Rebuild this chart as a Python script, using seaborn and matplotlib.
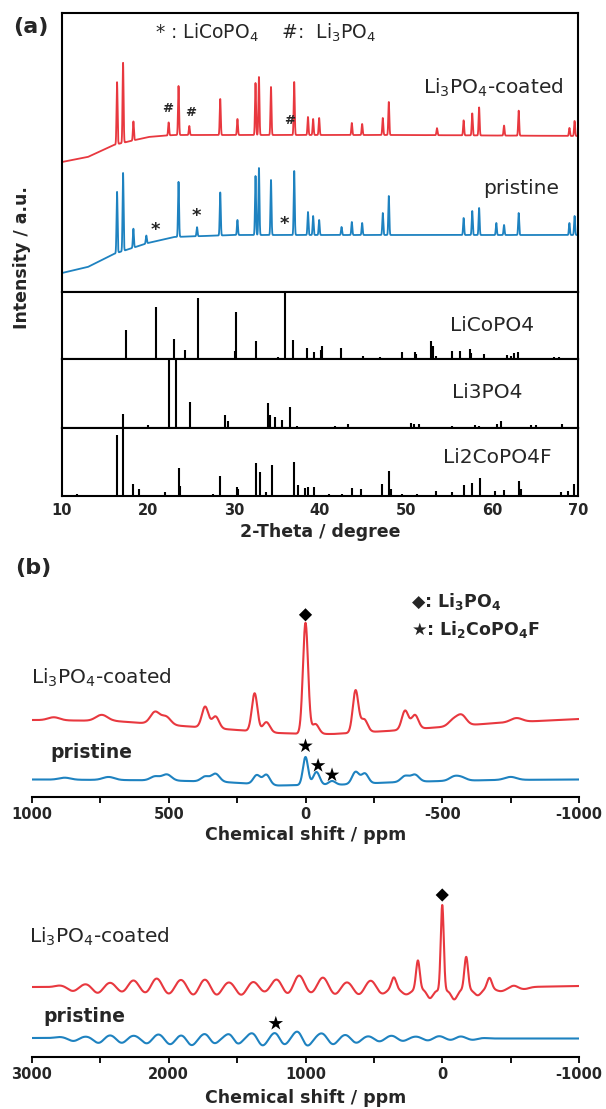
import numpy as np
import matplotlib
matplotlib.use("Agg")
import matplotlib.pyplot as plt
import seaborn as sns

# ---------------------------------------------------------------- data
# (a) measured XRD patterns: baseline anchors and peak list (2theta, intensity a.u.)
xrd_base_2theta = [10, 13, 16, 20, 23, 30, 50, 70]
coated_base = [130, 135, 147, 155, 157, 157, 157, 156]
pristine_base = [19, 25, 38, 49, 55, 57, 57, 57]

coated_peak_2theta = [16.4, 17.1, 18.3, 22.4, 23.55, 24.8, 28.4, 30.4, 32.5, 32.9, 34.3,
                      37.0, 38.6, 39.2, 39.9, 43.7, 44.9, 47.3, 48.0, 53.6, 56.7, 57.7,
                      58.5, 61.4, 63.1, 69.0, 69.6]
coated_peak_int = [62, 80, 19, 13, 49, 9, 36, 16, 52, 58, 48,
                   53, 18, 16, 17, 12, 11, 17, 33, 7, 15, 22,
                   28, 10, 25, 8, 15]

pristine_peak_2theta = [16.4, 17.1, 18.3, 19.8, 23.55, 25.7, 28.4, 30.4, 32.5, 32.9, 34.3,
                        37.0, 38.6, 39.2, 39.9, 42.5, 43.7, 44.9, 47.3, 48.0, 56.7, 57.7,
                        58.5, 60.5, 61.4, 63.1, 69.0, 69.6]
pristine_peak_int = [61, 78, 19, 8, 55, 9, 43, 15, 59, 67, 55,
                     64, 23, 19, 15, 8, 13, 12, 22, 39, 17, 24,
                     27, 12, 10, 22, 12, 19]

hash_2theta = [22.3, 24.9, 36.5]      # '#' Li3PO4 marks on coated pattern
star_2theta = [20.8, 25.6, 35.9]      # '*' LiCoPO4 marks on pristine pattern

# reference stick patterns (2theta, relative intensity %)
licopo4_2theta = [17.45, 20.9, 23.06, 24.27, 25.8, 30.06, 30.24, 32.5, 35.1, 35.9, 36.9,
                  38.5, 39.35, 40.07, 40.25, 42.4, 45.0, 47.0, 49.5, 51.0, 51.2, 52.86,
                  53.1, 53.5, 55.4, 56.3, 57.4, 57.6, 59.1, 61.8, 62.2, 62.6, 63.0, 67.2, 67.8]
licopo4_int = [43, 77.5, 30, 13, 91.5, 12.5, 70.5, 27.5, 3, 100, 28.5,
               16.5, 10, 14, 20, 16.5, 4, 2.5, 10, 10.5, 8, 26.5,
               20, 4, 11.5, 12.5, 15.5, 9, 8, 6.5, 5, 9, 10, 3, 3]

li3po4_2theta = [17.1, 20.0, 22.4, 23.2, 24.86, 28.9, 29.3, 33.9, 34.2, 34.8, 35.6, 36.5,
                 37.3, 40.4, 41.7, 43.3, 50.6, 50.9, 51.5, 55.3, 58.0, 58.5, 60.6, 61.1,
                 64.5, 65.1, 68.1]
li3po4_int = [21, 4.4, 100, 100, 38, 18.5, 9.8, 35.6, 19.5, 16, 11.2, 30.7,
              3.4, 1.5, 3, 6.3, 7.3, 6.3, 6.3, 3.4, 3.9, 3, 6.3, 10.7,
              4.9, 4.9, 5.4]

li2copo4f_2theta = [11.8, 16.4, 17.05, 18.3, 18.9, 22.0, 23.55, 23.7, 27.6, 28.4, 30.3, 30.5,
                    32.5, 33.0, 33.7, 34.4, 37.0, 37.4, 38.3, 38.6, 39.3, 41.0, 42.5, 43.75,
                    44.8, 47.25, 48.0, 48.3, 49.5, 51.3, 53.5, 55.3, 56.7, 57.7, 58.6, 60.4,
                    61.4, 63.1, 63.4, 68.0, 68.8, 69.5]
li2copo4f_int = [2.4, 90, 100, 17.6, 9.8, 5.4, 40.5, 15, 3, 29.3, 12.7, 9.8,
                 47.8, 35.6, 6.3, 45.4, 50.2, 16, 11.2, 13.7, 13.7, 2.4, 2.4, 11.2,
                 9.8, 17.6, 36.6, 9.8, 2.4, 2.4, 7.8, 5.4, 16, 18.5, 25.9, 7.8,
                 8.8, 22, 9.8, 6.3, 7.8, 17.6]

# (b) NMR, top spectra (ppm, intensity a.u.)
nmr1_base_ppm = [1000, 700, 500, 300, 100, 0, -100, -300, -500, -700, -1000]
coated1_base = [77, 76, 72, 68, 64, 63, 63, 66, 70, 74, 78]
coated1_ppm = [0, -36, 186, 143, -183, -214, 367, 329, -364, -400, 550, 510, -571, -540, 745, -771, 920]
coated1_int = [111, 10, 38, 10, 42, 13, 21, 12, 19, 14, 12, 8, 10, 6, 6, 4, 3]
coated1_fwhm = [22, 30, 24, 30, 24, 30, 28, 30, 28, 30, 40, 40, 40, 40, 50, 50, 50]

pristine1_base = [17.5, 17, 16.5, 15, 11.5, 12, 12, 14.5, 16, 17, 17.5]
pristine1_ppm = [0, -40, -97, 178, 143, -183, -217, 367, 329, -364, -400, 550, 507, -543, -571, 720, -750, 880]
pristine1_int = [28, 13, 4, 9, 10, 12, 10, 5, 8, 6, 7, 4, 6, 4, 3, 3, 3, 2]
pristine1_fwhm = [22, 28, 30, 30, 30, 30, 30, 35, 35, 35, 35, 40, 40, 40, 40, 50, 50, 50]
nmr1_star_ppm = [0, -46, -97]
nmr1_diamond_ppm = [0]

# (b) NMR, bottom spectra (ppm, intensity a.u.)
nmr2_base_ppm = [3000, 2000, 1000, 300, 0, -300, -600, -1000]
coated2_base = [70, 70, 70, 69, 66, 68, 70, 71]
coated2_ppm = [2796, 2607, 2429, 2259, 2089, 1911, 1736, 1560, 1381, 1211, 1047, 873, 696, 523,
               354, 178, 0, -175, -345, -523,
               2700, 2520, 2340, 2170, 2000, 1820, 1650, 1470, 1300, 1130, 960, 785, 610,
               440, 265, 90, -88, -260, -430, -600]
coated2_int = [1.5, 3, 4.5, 7, 9, 7.5, 8, 5, 5.5, 8, 12, 10, 5.5, 7.5,
               11, 29, 86, 33, 11, 2,
               -4, -6, -5, -6, -7, -8, -8, -8, -5, -7, -6, -7, -7,
               -6, -6, -8, -9, -6, -3, -2]
coated2_fwhm = [80] * 14 + [40, 32, 26, 32, 40, 60] + [80] * 15 + [50, 50, 60, 80, 80]

pristine2_base = [19, 19, 19, 19, 19, 18.5, 18.5, 18.5]
pristine2_ppm = [2796, 2607, 2429, 2259, 2075, 1905, 1730, 1550, 1386, 1217, 1055, 880, 707,
                 540, 370, 192, 23, -133, -300,
                 2697, 2513, 2344, 2160, 1990, 1834, 1670, 1500, 1316, 1160, 990, 800, 630,
                 460, 290, 105, -62, -220]
pristine2_int = [1, 1.5, 3, 2.5, 4, 3.5, 5, 5.5, 5.5, 6.5, 7.5, 5, 3.5,
                 2, 2.5, 1.5, 2, 2, 0.5,
                 -3, -5, -5, -5.5, -6.5, -7.5, -6, -7, -8, -7.5, -8.5, -6.5, -5,
                 -3.5, -3, -2.5, -2, -1.5]
pristine2_fwhm = [80] * 37
nmr2_star_ppm = [1217]
nmr2_diamond_ppm = [0]

# ---------------------------------------------------------------- style
sns.set_style("white")
plt.rcParams["font.family"] = ["DejaVu Sans"]
plt.rcParams["mathtext.fontset"] = "dejavusans"

RED = "#E8383F"
BLUE = "#1E82C0"
W, H = 606, 1109
fig = plt.figure(figsize=(W / 100, H / 100), dpi=100)


def px_axes(left, top, right, bottom):
    return fig.add_axes([left / W, 1 - bottom / H, (right - left) / W, (bottom - top) / H])


def ftext(x, y, s, **kw):
    kw.setdefault("va", "center")
    return fig.text(x / W, 1 - y / H, s, **kw)


def peaks(grid, centers, amps, fwhm):
    grid = np.asarray(grid)[:, None]
    c = np.asarray(centers)[None, :]
    a = np.asarray(amps)[None, :]
    w = np.broadcast_to(np.asarray(fwhm, dtype=float), c.shape[1:])[None, :]
    return (a * np.exp(-4 * np.log(2) * (grid - c) ** 2 / w ** 2)).sum(axis=1)


def base(grid, xp, fp):
    xp = np.asarray(xp, float)
    fp = np.asarray(fp, float)
    order = np.argsort(xp)
    return np.interp(grid, xp[order], fp[order])


def local_max(grid, curve, x, half=0.3):
    m = (grid >= x - half) & (grid <= x + half)
    return curve[m].max()


def box(ax, lw=1.5):
    for s in ax.spines.values():
        s.set_visible(True)
        s.set_linewidth(lw)
        s.set_color("black")


# ---------------------------------------------------------------- panel (a)
AL, AR = 62, 578
ax0 = px_axes(AL, 13, AR, 292)
ax1 = px_axes(AL, 292, AR, 359)
ax2 = px_axes(AL, 359, AR, 428)
ax3 = px_axes(AL, 428, AR, 496)

tt = np.linspace(10, 70, 12001)
coated = base(tt, xrd_base_2theta, coated_base) + peaks(tt, coated_peak_2theta, coated_peak_int, 0.14)
pristine = base(tt, xrd_base_2theta, pristine_base) + peaks(tt, pristine_peak_2theta, pristine_peak_int, 0.14)
sns.lineplot(x=tt, y=coated, ax=ax0, color=RED, lw=1.3, estimator=None)
sns.lineplot(x=tt, y=pristine, ax=ax0, color=BLUE, lw=1.3, estimator=None)
ax0.set_xlim(10, 70)
ax0.set_ylim(0, 279)

for x in hash_2theta:
    y = local_max(tt, coated, x)
    ax0.text(x, y + 14, "#", ha="center", va="center", fontsize=9.5, fontweight="bold")
for x in star_2theta:
    y = local_max(tt, pristine, x)
    ax0.text(x, y + 11, "*", ha="center", va="center", fontsize=13, fontweight="bold")

for ax, pos, inten in [(ax1, licopo4_2theta, licopo4_int),
                       (ax2, li3po4_2theta, li3po4_int),
                       (ax3, li2copo4f_2theta, li2copo4f_int)]:
    ax.vlines(pos, 0, inten, color="black", lw=1.5)
    ax.set_xlim(10, 70)
    ax.set_ylim(0, 100)

for ax in (ax0, ax1, ax2, ax3):
    box(ax)
    ax.set_yticks([])
    ax.set_ylabel("")
    ax.set_xlabel("")
for ax in (ax0, ax1, ax2):
    ax.set_xticks([])

ax3.set_xticks(range(10, 71, 10))
ax3.tick_params(axis="x", length=0, pad=5, labelsize=10.5)
for lab in ax3.get_xticklabels():
    lab.set_fontweight("bold")
ax3.set_xlabel("2-Theta / degree", fontsize=12.5, fontweight="bold", va="center")
ax3.xaxis.set_label_coords(0.5, (496 - 532) / 68)

ftext(31, 27, "(a)", fontsize=16, fontweight="bold", ha="center")
ftext(266, 33, "* : LiCoPO$_4$    #:  Li$_3$PO$_4$", fontsize=13.5, ha="center")
ftext(563, 88, "Li$_3$PO$_4$-coated", fontsize=14.5, ha="right")
ftext(559, 188, "pristine", fontsize=14.5, ha="right")
ftext(22, 258, "Intensity / a.u.", fontsize=12.5, fontweight="bold", rotation=90, ha="center")
ax1.text(0.833, 0.5, "LiCoPO4", transform=ax1.transAxes, fontsize=14.5, ha="center", va="center")
ax2.text(0.824, 0.52, "Li3PO4", transform=ax2.transAxes, fontsize=14.5, ha="center", va="center")
ax3.text(0.843, 0.56, "Li2CoPO4F", transform=ax3.transAxes, fontsize=14.5, ha="center", va="center")

# ---------------------------------------------------------------- panel (b)
BL, BR = 32, 579
ax4 = px_axes(BL, 590, BR, 797)
ax5 = px_axes(BL, 880, BR, 1057)

pp1 = np.linspace(1000, -1000, 4001)
c1 = base(pp1, nmr1_base_ppm, coated1_base) + peaks(pp1, coated1_ppm, coated1_int, coated1_fwhm)
p1 = base(pp1, nmr1_base_ppm, pristine1_base) + peaks(pp1, pristine1_ppm, pristine1_int, pristine1_fwhm)
sns.lineplot(x=pp1, y=c1, ax=ax4, color=RED, lw=1.5, estimator=None, sort=False)
sns.lineplot(x=pp1, y=p1, ax=ax4, color=BLUE, lw=1.5, estimator=None, sort=False)
ax4.set_xlim(1000, -1000)
ax4.set_ylim(0, 207)
sx = np.array(nmr1_star_ppm)
sns.scatterplot(x=sx, y=np.interp(-sx, -pp1, p1) + np.array([11, 8, 6]), ax=ax4,
                marker="*", s=120, color="black", edgecolor="none", legend=False)
dx = np.array(nmr1_diamond_ppm)
sns.scatterplot(x=dx, y=np.interp(-dx, -pp1, c1) + 8, ax=ax4,
                marker="D", s=45, color="black", edgecolor="none", legend=False)

pp2 = np.linspace(3000, -1000, 8001)
c2 = base(pp2, nmr2_base_ppm, coated2_base) + peaks(pp2, coated2_ppm, coated2_int, coated2_fwhm)
p2 = base(pp2, nmr2_base_ppm, pristine2_base) + peaks(pp2, pristine2_ppm, pristine2_int, pristine2_fwhm)
sns.lineplot(x=pp2, y=c2, ax=ax5, color=RED, lw=1.5, estimator=None, sort=False)
sns.lineplot(x=pp2, y=p2, ax=ax5, color=BLUE, lw=1.5, estimator=None, sort=False)
ax5.set_xlim(3000, -1000)
ax5.set_ylim(0, 177)
sx2 = np.array(nmr2_star_ppm)
sns.scatterplot(x=sx2, y=np.interp(-sx2, -pp2, p2) + 10, ax=ax5,
                marker="*", s=120, color="black", edgecolor="none", legend=False)
dx2 = np.array(nmr2_diamond_ppm)
sns.scatterplot(x=dx2, y=np.interp(-dx2, -pp2, c2) + 10, ax=ax5,
                marker="D", s=45, color="black", edgecolor="none", legend=False)

for ax, major, minor, ypx, lab_off in [(ax4, [1000, 500, 0, -500, -1000], [750, 250, -250, -750], 207, 38),
                                       (ax5, [3000, 2000, 1000, 0, -1000], [2500, 1500, 500, -500], 177, 41)]:
    for k in ("top", "left", "right"):
        ax.spines[k].set_visible(False)
    ax.spines["bottom"].set_visible(True)
    ax.spines["bottom"].set_linewidth(1.5)
    ax.spines["bottom"].set_color("black")
    ax.set_yticks([])
    ax.set_ylabel("")
    ax.set_xticks(major)
    ax.set_xticks(minor, minor=True)
    ax.set_xticklabels([str(v) for v in major])
    ax.tick_params(axis="x", which="both", direction="out", length=4, width=1.3,
                   bottom=True, labelsize=10.5, pad=3, color="black")
    for lab in ax.get_xticklabels():
        lab.set_fontweight("bold")
    ax.set_xlabel("Chemical shift / ppm", fontsize=12.5, fontweight="bold", va="center")
    ax.xaxis.set_label_coords(0.5, -lab_off / ypx)

ftext(33, 568, "(b)", fontsize=16, fontweight="bold", ha="center")
ftext(411, 602, r"◆: Li$_\mathbf{3}$PO$_\mathbf{4}$", fontsize=12.5, fontweight="bold")
ftext(411, 630, r"★: Li$_\mathbf{2}$CoPO$_\mathbf{4}$F", fontsize=12.5, fontweight="bold")
ftext(31, 678, "Li$_3$PO$_4$-coated", fontsize=14.5)
ftext(50, 753, "pristine", fontsize=13.5, fontweight="bold")
ftext(29, 937, "Li$_3$PO$_4$-coated", fontsize=14.5)
ftext(43, 1017, "pristine", fontsize=13.5, fontweight="bold")

fig.savefig("out.png", dpi=100)
